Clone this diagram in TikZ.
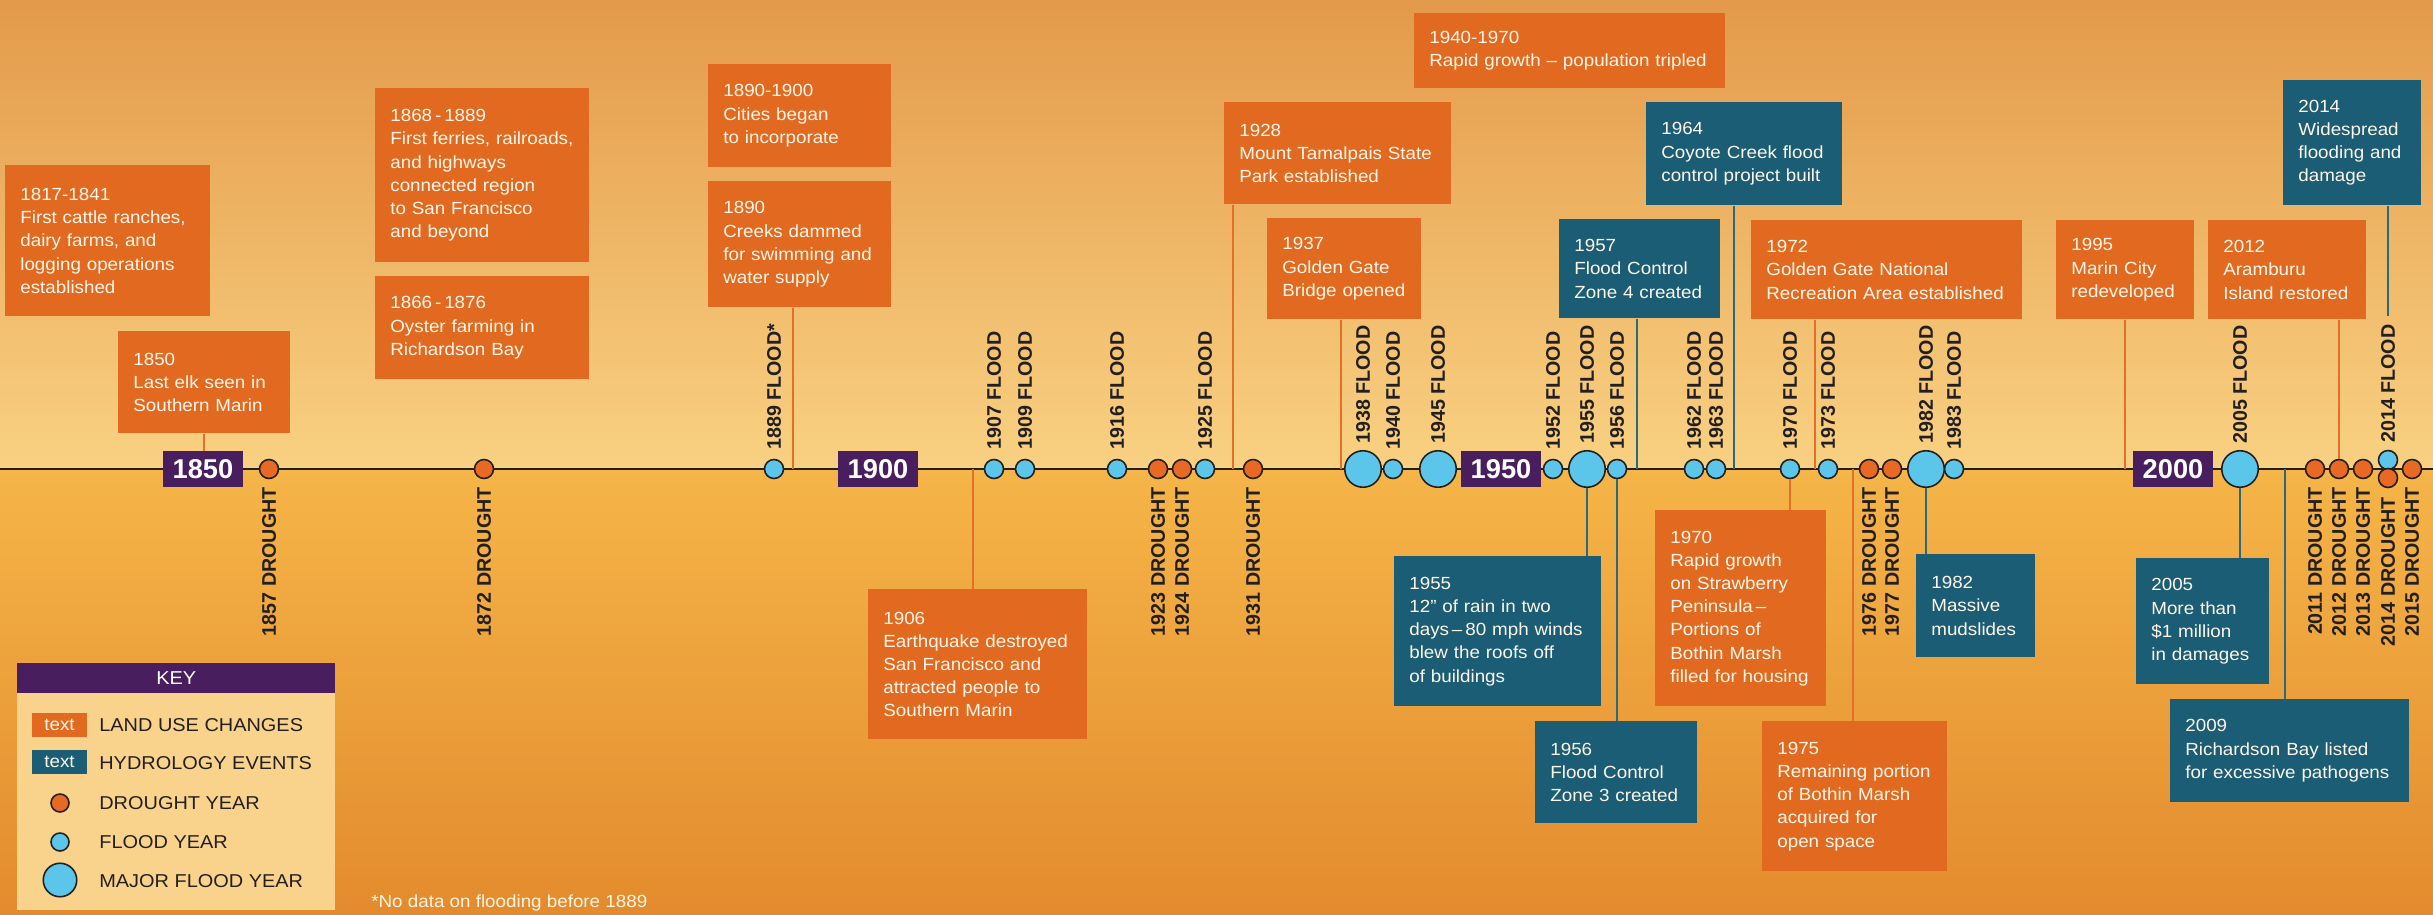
\documentclass[tikz,border=0pt]{standalone}
\usepackage{fontspec}
\setmainfont{Liberation Sans}
\newfontfamily\boxfamily{Liberation Sans}[FakeStretch=1.07,Ligatures=TeX]
\usetikzlibrary{positioning}
\definecolor{Ink}{HTML}{231F20}
\definecolor{LandOrange}{HTML}{E26A20}
\definecolor{HydroTeal}{HTML}{1B5D75}
\definecolor{YearPurple}{HTML}{481E5E}
\definecolor{FloodBlue}{HTML}{5CC5EA}
\definecolor{DroughtOrange}{HTML}{E86923}
\definecolor{LandLine}{HTML}{E2702A}
\definecolor{HydroLine}{HTML}{2A6A80}
\definecolor{BgTop}{HTML}{E39A4A}
\definecolor{BgLine}{HTML}{F9D182}
\definecolor{BgBelow}{HTML}{F5B548}
\definecolor{BgBottom}{HTML}{E38B2E}
\definecolor{KeyBody}{HTML}{F9D38C}
\definecolor{BoxText}{HTML}{FFF6EA}
\definecolor{NoteText}{HTML}{FFF4E0}
\newcommand{\boxfont}{\boxfamily\fontsize{10}{13.2}\selectfont}
\newcommand{\lblfont}{\fontsize{11.2}{12}\selectfont\bfseries}
\newcommand{\yrfont}{\fontsize{15.5}{16}\selectfont\bfseries}
\newcommand{\keyfont}{\boxfamily\fontsize{10.6}{12}\selectfont}

\begin{document}
\begin{tikzpicture}[x=0.02cm,y=-0.02cm,
      timeline/.style={draw=Ink,line width=1pt},
      drought/.style={circle,draw=Ink,line width=0.9pt,fill=DroughtOrange,
                      minimum size=0.38cm,inner sep=0pt},
      flood/.style={drought,fill=FloodBlue},
      major/.style={flood,minimum size=0.73cm},
      yearbox/.style={fill=YearPurple,text=white,font=\yrfont,
                      minimum width=1.6cm,minimum height=0.72cm,inner sep=0pt},
      evbox/.style={anchor=north west,text=BoxText,align=left,
                    inner xsep=0.3cm,inner ysep=0pt,font=\boxfont},
      land/.style={evbox,fill=LandOrange},
      hydro/.style={evbox,fill=HydroTeal},
      landline/.style={draw=LandLine,line width=1pt},
      hydroline/.style={draw=HydroLine,line width=1pt},
      fllabel/.style={rotate=90,anchor=west,inner sep=0pt,font=\lblfont,text=Ink},
      drlabel/.style={fllabel,anchor=east},
      keylabel/.style={anchor=west,inner sep=0pt,font=\keyfont,text=Ink}]
    \useasboundingbox (0,0) rectangle (2433,915);
    % background, above and below the time line
    \shade[top color=BgTop,bottom color=BgLine] (0,0) rectangle (2433,469);
    \shade[top color=BgBelow,bottom color=BgBottom] (0,469) rectangle (2433,915);

    % time line
    \coordinate (tl0) at (0,469);
    \coordinate (tl1) at (2433,469);
    \draw[timeline] (tl0) -- (tl1);
    \coordinate (t1890) at (793,469);
    \coordinate (t1906) at (973,469);
    \coordinate (t1928) at (1233,469);
    \coordinate (t1937) at (1341,469);
    \coordinate (t1957) at (1637,469);
    \coordinate (t1964) at (1734,469);
    \coordinate (t1972) at (1815,469);
    \coordinate (t1975) at (1853,469);
    \coordinate (t1995) at (2125,469);
    \coordinate (t2009) at (2285,469);

    % decade markers
    \node[yearbox] (y1850) at (203,469) {1850};
    \node[yearbox] (y1900) at (878,469) {1900};
    \node[yearbox] (y1950) at (1501,469) {1950};
    \node[yearbox] (y2000) at (2173,469) {2000};

    % drought years
    \node[drought] (d1857) at (269,469) {};
    \node[drought] (d1872) at (484,469) {};
    \node[drought] (d1923) at (1158,469) {};
    \node[drought] (d1924) at (1182,469) {};
    \node[drought] (d1931) at (1253,469) {};
    \node[drought] (d1976) at (1869,469) {};
    \node[drought] (d1977) at (1892,469) {};
    \node[drought] (d2011) at (2315,469) {};
    \node[drought] (d2012) at (2339,469) {};
    \node[drought] (d2013) at (2363,469) {};
    \node[drought] (d2015) at (2412,469) {};
    % flood years
    \node[flood] (f1889) at (774,469) {};
    \node[flood] (f1907) at (994,469) {};
    \node[flood] (f1909) at (1025,469) {};
    \node[flood] (f1916) at (1117,469) {};
    \node[flood] (f1925) at (1205,469) {};
    \node[flood] (f1940) at (1393,469) {};
    \node[flood] (f1952) at (1553,469) {};
    \node[flood] (f1956) at (1617,469) {};
    \node[flood] (f1962) at (1694,469) {};
    \node[flood] (f1963) at (1716,469) {};
    \node[flood] (f1970) at (1790,469) {};
    \node[flood] (f1973) at (1828,469) {};
    \node[flood] (f1983) at (1954,469) {};
    \node[flood] (f2014) at (2388,460) {};
    \node[drought] (d2014) at (2388,478) {};
    % major flood years
    \node[major] (m1938) at (1363,469) {};
    \node[major] (m1945) at (1438,469) {};
    \node[major] (m1955) at (1587,469) {};
    \node[major] (m1982) at (1926,469) {};
    \node[major] (m2005) at (2240,469) {};

    % events above the line
    \node[land,text width=3.50cm,minimum height=3.02cm] (b1817) at (5,165)
      {1817-1841\\First cattle ranches,\\dairy farms, and\\logging operations\\established};
    \node[land,text width=2.84cm,minimum height=2.04cm] (b1850) at (118,331)
      {1850\\Last elk seen in\\Southern Marin};
    \node[land,text width=3.68cm,minimum height=3.48cm] (b1868) at (375,88)
      {1868\,-\,1889\\First ferries, railroads,\\and highways\\connected region\\to San Francisco\\and beyond};
    \node[land,text width=3.68cm,minimum height=2.06cm] (b1866) at (375,276)
      {1866\,-\,1876\\Oyster farming in\\Richardson Bay};
    \node[land,text width=3.06cm,minimum height=2.06cm] (b1890a) at (708,64)
      {1890-1900\\Cities began\\to incorporate};
    \node[land,text width=3.06cm,minimum height=2.52cm] (b1890) at (708,181)
      {1890\\Creeks dammed\\for swimming and\\water supply};
    \node[land,text width=5.62cm,minimum height=1.50cm] (b1940) at (1414,13)
      {1940-1970\\Rapid growth – population tripled};
    \node[land,text width=3.94cm,minimum height=2.04cm] (b1928) at (1224,102)
      {1928\\Mount Tamalpais State\\Park established};
    \node[land,text width=2.48cm,minimum height=2.02cm] (b1937) at (1267,218)
      {1937\\Golden Gate\\Bridge opened};
    \node[hydro,text width=2.62cm,minimum height=1.98cm] (b1957) at (1559,219)
      {1957\\Flood Control\\Zone 4 created};
    \node[hydro,text width=3.32cm,minimum height=2.06cm] (b1964) at (1646,102)
      {1964\\Coyote Creek flood\\control project built};
    \node[land,text width=4.82cm,minimum height=1.98cm] (b1972) at (1751,220)
      {1972\\Golden Gate National\\Recreation Area established};
    \node[land,text width=2.16cm,minimum height=1.98cm] (b1995) at (2056,220)
      {1995\\Marin City\\redeveloped};
    \node[land,text width=2.56cm,minimum height=1.98cm] (b2012) at (2208,220)
      {2012\\Aramburu\\Island restored};
    \node[hydro,text width=2.16cm,minimum height=2.50cm] (b2014) at (2283,80)
      {2014\\Widespread\\flooding and\\damage};

    % events below the line
    \node[land,text width=3.78cm,minimum height=3.00cm] (b1906) at (868,589)
      {1906\\Earthquake destroyed\\San Francisco and\\attracted people to\\Southern Marin};
    \node[hydro,text width=3.54cm,minimum height=3.00cm] (b1955) at (1394,556)
      {1955\\12” of rain in two\\days\,–\,80 mph winds\\blew the roofs off\\of buildings};
    \node[hydro,text width=2.64cm,minimum height=2.04cm] (b1956) at (1535,721)
      {1956\\Flood Control\\Zone 3 created};
    \node[land,text width=2.82cm,minimum height=3.92cm] (b1970) at (1655,510)
      {1970\\Rapid growth\\on Strawberry\\Peninsula\,–\\Portions of\\Bothin Marsh\\filled for housing};
    \node[land,text width=3.10cm,minimum height=3.00cm] (b1975) at (1762,721)
      {1975\\Remaining portion\\of Bothin Marsh\\acquired for\\open space};
    \node[hydro,text width=1.78cm,minimum height=2.06cm] (b1982) at (1916,554)
      {1982\\Massive\\mudslides};
    \node[hydro,text width=2.06cm,minimum height=2.52cm] (b2005) at (2136,558)
      {2005\\More than\\\$1 million\\in damages};
    \node[hydro,text width=4.18cm,minimum height=2.06cm] (b2009) at (2170,699)
      {2009\\Richardson Bay listed\\for excessive pathogens};

    % flood labels
    \node[fllabel] (lf1889) at (774,450) {1889 FLOOD*};
    \node[fllabel] (lf1907) at (994,450) {1907 FLOOD};
    \node[fllabel] (lf1909) at (1025,450) {1909 FLOOD};
    \node[fllabel] (lf1916) at (1117,450) {1916 FLOOD};
    \node[fllabel] (lf1925) at (1205,450) {1925 FLOOD};
    \node[fllabel] (lf1938) at (1363,444) {1938 FLOOD};
    \node[fllabel] (lf1940) at (1393,450) {1940 FLOOD};
    \node[fllabel] (lf1945) at (1438,444) {1945 FLOOD};
    \node[fllabel] (lf1952) at (1553,450) {1952 FLOOD};
    \node[fllabel] (lf1955) at (1587,444) {1955 FLOOD};
    \node[fllabel] (lf1956) at (1617,450) {1956 FLOOD};
    \node[fllabel] (lf1962) at (1694,450) {1962 FLOOD};
    \node[fllabel] (lf1963) at (1716,450) {1963 FLOOD};
    \node[fllabel] (lf1970) at (1790,450) {1970 FLOOD};
    \node[fllabel] (lf1973) at (1828,450) {1973 FLOOD};
    \node[fllabel] (lf1982) at (1926,444) {1982 FLOOD};
    \node[fllabel] (lf1983) at (1954,450) {1983 FLOOD};
    \node[fllabel] (lf2005) at (2240,444) {2005 FLOOD};
    \node[fllabel] (lf2014) at (2388,443) {2014 FLOOD};
    % drought labels
    \node[drlabel] (ld1857) at (269,487) {1857 DROUGHT};
    \node[drlabel] (ld1872) at (484,487) {1872 DROUGHT};
    \node[drlabel] (ld1923) at (1158,487) {1923 DROUGHT};
    \node[drlabel] (ld1924) at (1182,487) {1924 DROUGHT};
    \node[drlabel] (ld1931) at (1253,487) {1931 DROUGHT};
    \node[drlabel] (ld1976) at (1869,487) {1976 DROUGHT};
    \node[drlabel] (ld1977) at (1892,487) {1977 DROUGHT};
    \node[drlabel] (ld2011) at (2315,487) {2011 DROUGHT};
    \node[drlabel] (ld2012) at (2339,487) {2012 DROUGHT};
    \node[drlabel] (ld2013) at (2363,487) {2013 DROUGHT};
    \node[drlabel] (ld2014) at (2388,497) {2014 DROUGHT};
    \node[drlabel] (ld2015) at (2412,487) {2015 DROUGHT};

    % connectors
    \draw[landline] (b1850.south) -- (b1850.south |- y1850.north);
    \draw[landline] (b1890.south -| t1890) -- (t1890);
    \draw[landline] (b1928.south -| t1928) -- (t1928);
    \draw[landline] (b1937.south -| t1937) -- (t1937);
    \draw[hydroline] (b1957.south -| t1957) -- (t1957);
    \draw[hydroline] (b1964.south -| t1964) -- (t1964);
    \draw[landline] (b1972.south -| t1972) -- (t1972);
    \draw[landline] (b1995.south -| t1995) -- (t1995);
    \draw[landline] (b2012.south -| d2012) -- (d2012.north);
    \draw[hydroline,shorten >=0.16cm] (b2014.south -| lf2014.east) -- (lf2014.east);
    \draw[landline] (t1906) -- (t1906 |- b1906.north);
    \draw[hydroline] (m1955.south) -- (m1955.south |- b1955.north);
    \draw[hydroline] (f1956.south) -- (f1956.south |- b1956.north);
    \draw[landline] (f1970.south) -- (f1970.south |- b1970.north);
    \draw[landline] (t1975) -- (t1975 |- b1975.north);
    \draw[hydroline] (m1982.south) -- (m1982.south |- b1982.north);
    \draw[hydroline] (m2005.south) -- (m2005.south |- b2005.north);
    \draw[hydroline] (t2009) -- (t2009 |- b2009.north);

    % key
    \node[fill=KeyBody,anchor=north west,inner sep=0pt,
          minimum width=6.36cm,minimum height=4.94cm] (keybox) at (17,663) {};
    \node[fill=YearPurple,anchor=north west,inner sep=0pt,text=white,font=\keyfont,
          minimum width=6.36cm,minimum height=0.6cm] (keyhead) at (17,663) {KEY};
    \node[fill=LandOrange,text=BoxText,font=\boxfont,inner sep=0pt,
          minimum width=1.1cm,minimum height=0.48cm] (keyland) at (59.5,725) {text};
    \node[fill=HydroTeal,text=BoxText,font=\boxfont,inner sep=0pt,
          minimum width=1.1cm,minimum height=0.48cm] (keyhydro) at (59.5,762) {text};
    \node[drought,minimum size=0.36cm] (keydrought) at (60,803) {};
    \node[flood,minimum size=0.36cm] (keyflood) at (60,842) {};
    \node[major,minimum size=0.67cm] (keymajor) at (60,880) {};
    \node[keylabel] (kl1) at (99,725) {LAND USE CHANGES};
    \node[keylabel] (kl2) at (99,763) {HYDROLOGY EVENTS};
    \node[keylabel] (kl3) at (99,803) {DROUGHT YEAR};
    \node[keylabel] (kl4) at (99,842) {FLOOD YEAR};
    \node[keylabel] (kl5) at (99,881) {MAJOR FLOOD YEAR};
    \node[anchor=west,inner sep=0pt,text=NoteText,font=\boxfont] (note) at (371,903)
      {*No data on flooding before 1889};
  \end{tikzpicture}
\end{document}
